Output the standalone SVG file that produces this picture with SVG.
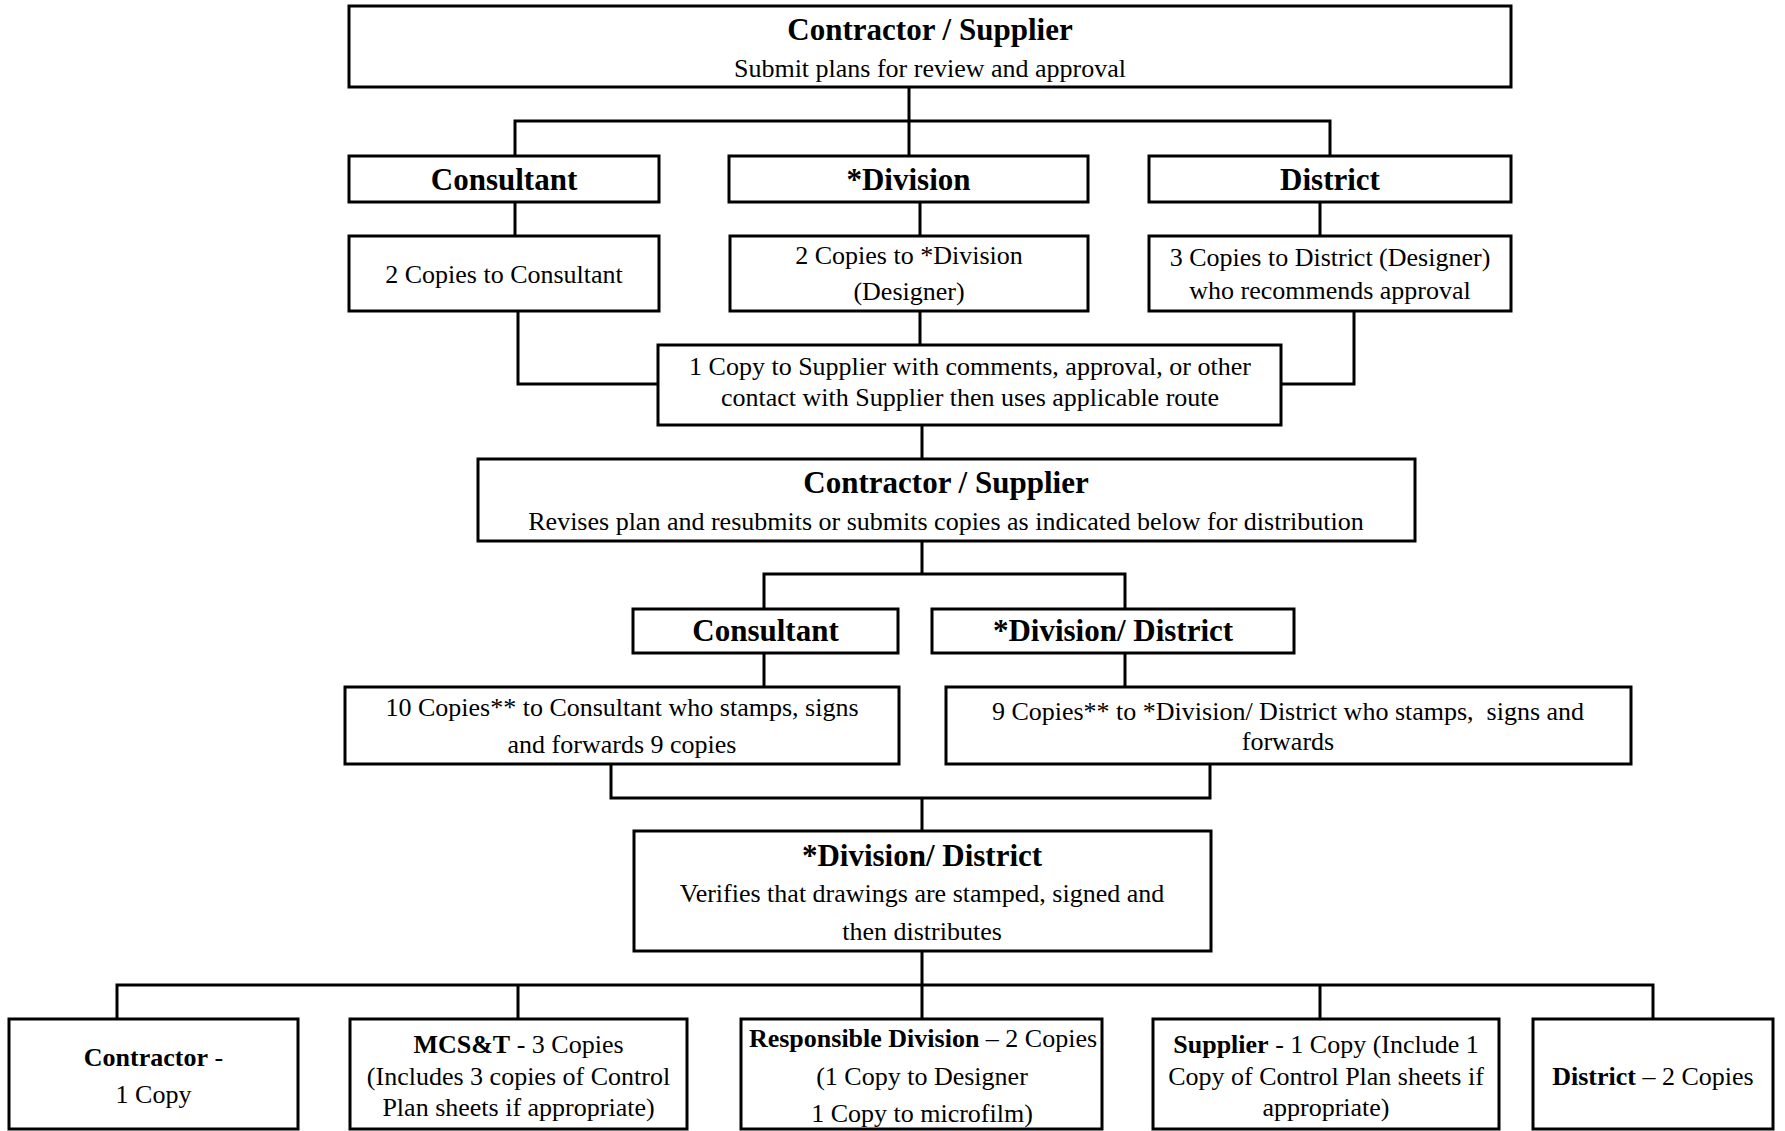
<svg xmlns="http://www.w3.org/2000/svg" width="1785" height="1131" viewBox="0 0 1785 1131">
<style>
rect.box{fill:#fff;stroke:#000;stroke-width:3}
.conn path{fill:none;stroke:#000;stroke-width:3}
text{font-family:"Liberation Serif","Times New Roman",serif;fill:#000;text-anchor:middle}
.t{font-size:31px;font-weight:bold}
.r{font-size:26px}
.b{font-weight:bold}
</style>
<rect width="1785" height="1131" fill="#fff"/>
<g id="connectors" class="conn">
<path d="M909 87V121M515 156V121H1330V156M909 121V156"/>
<path d="M515 202V236M920 202V236M1320 202V236"/>
<path d="M518 311V384H658M920 311V345M1354 311V384H1281"/>
<path d="M922 425V459"/>
<path d="M922 541V574M764 609V574H1125V609"/>
<path d="M764 653V687M1125 653V687"/>
<path d="M611 764V798H1210V764M922 798V831"/>
<path d="M922 951V985M117 1019V985H1653V1019M518 985V1019M922 985V1019M1320 985V1019"/>
</g>
<g id="n1"><rect class="box" x="349" y="6" width="1162" height="81"/>
<text class="t" x="930" y="39.5">Contractor / Supplier</text>
<text class="r" x="930" y="77">Submit plans for review and approval</text></g>
<g id="n2"><rect class="box" x="349" y="156" width="310" height="46"/>
<text class="t" x="504" y="190">Consultant</text></g>
<g id="n3"><rect class="box" x="729" y="156" width="359" height="46"/>
<text class="t" x="908.5" y="190">*Division</text></g>
<g id="n4"><rect class="box" x="1149" y="156" width="362" height="46"/>
<text class="t" x="1330" y="190">District</text></g>
<g id="n5"><rect class="box" x="349" y="236" width="310" height="75"/>
<text class="r" x="504" y="283">2 Copies to Consultant</text></g>
<g id="n6"><rect class="box" x="730" y="236" width="358" height="75"/>
<text class="r" x="909" y="264">2 Copies to *Division</text>
<text class="r" x="909" y="300">(Designer)</text></g>
<g id="n7"><rect class="box" x="1149" y="236" width="362" height="75"/>
<text class="r" x="1330" y="266">3 Copies to District (Designer)</text>
<text class="r" x="1330" y="299">who recommends approval</text></g>
<g id="n8"><rect class="box" x="658" y="345" width="623" height="80"/>
<text class="r" x="970" y="375">1 Copy to Supplier with comments, approval, or other</text>
<text class="r" x="970" y="406">contact with Supplier then uses applicable route</text></g>
<g id="n9"><rect class="box" x="478" y="459" width="937" height="82"/>
<text class="t" x="946" y="493">Contractor / Supplier</text>
<text class="r" x="946" y="530">Revises plan and resubmits or submits copies as indicated below for distribution</text></g>
<g id="n10"><rect class="box" x="633" y="609" width="265" height="44"/>
<text class="t" x="765.5" y="641">Consultant</text></g>
<g id="n11"><rect class="box" x="932" y="609" width="362" height="44"/>
<text class="t" x="1113" y="641">*Division/ District</text></g>
<g id="n12"><rect class="box" x="345" y="687" width="554" height="77"/>
<text class="r" x="622" y="716">10 Copies** to Consultant who stamps, signs</text>
<text class="r" x="622" y="753">and forwards 9 copies</text></g>
<g id="n13"><rect class="box" x="946" y="687" width="685" height="77"/>
<text class="r" x="1288" y="720" xml:space="preserve">9 Copies** to *Division/ District who stamps,  signs and</text>
<text class="r" x="1288" y="750">forwards</text></g>
<g id="n14"><rect class="box" x="634" y="831" width="577" height="120"/>
<text class="t" x="922" y="866">*Division/ District</text>
<text class="r" x="922" y="902">Verifies that drawings are stamped, signed and</text>
<text class="r" x="922" y="940">then distributes</text></g>
<g id="n15"><rect class="box" x="9" y="1019" width="289" height="110"/>
<text class="r" x="153.5" y="1066"><tspan class="b">Contractor</tspan> -</text>
<text class="r" x="153.5" y="1103">1 Copy</text></g>
<g id="n16"><rect class="box" x="350" y="1019" width="337" height="110"/>
<text class="r" x="518.5" y="1053"><tspan class="b">MCS&amp;T</tspan> - 3 Copies</text>
<text class="r" x="518.5" y="1085">(Includes 3 copies of Control</text>
<text class="r" x="518.5" y="1116">Plan sheets if appropriate)</text></g>
<g id="n17"><rect class="box" x="741" y="1019" width="361" height="110"/>
<text class="r" x="923" y="1047"><tspan class="b">Responsible Division</tspan> – 2 Copies</text>
<text class="r" x="922" y="1085">(1 Copy to Designer</text>
<text class="r" x="922" y="1122">1 Copy to microfilm)</text></g>
<g id="n18"><rect class="box" x="1153" y="1019" width="346" height="110"/>
<text class="r" x="1326" y="1053"><tspan class="b">Supplier</tspan> - 1 Copy (Include 1</text>
<text class="r" x="1326" y="1085">Copy of Control Plan sheets if</text>
<text class="r" x="1326" y="1116">appropriate)</text></g>
<g id="n19"><rect class="box" x="1533" y="1019" width="240" height="110"/>
<text class="r" x="1653" y="1085"><tspan class="b">District</tspan> – 2 Copies</text></g>
</svg>
